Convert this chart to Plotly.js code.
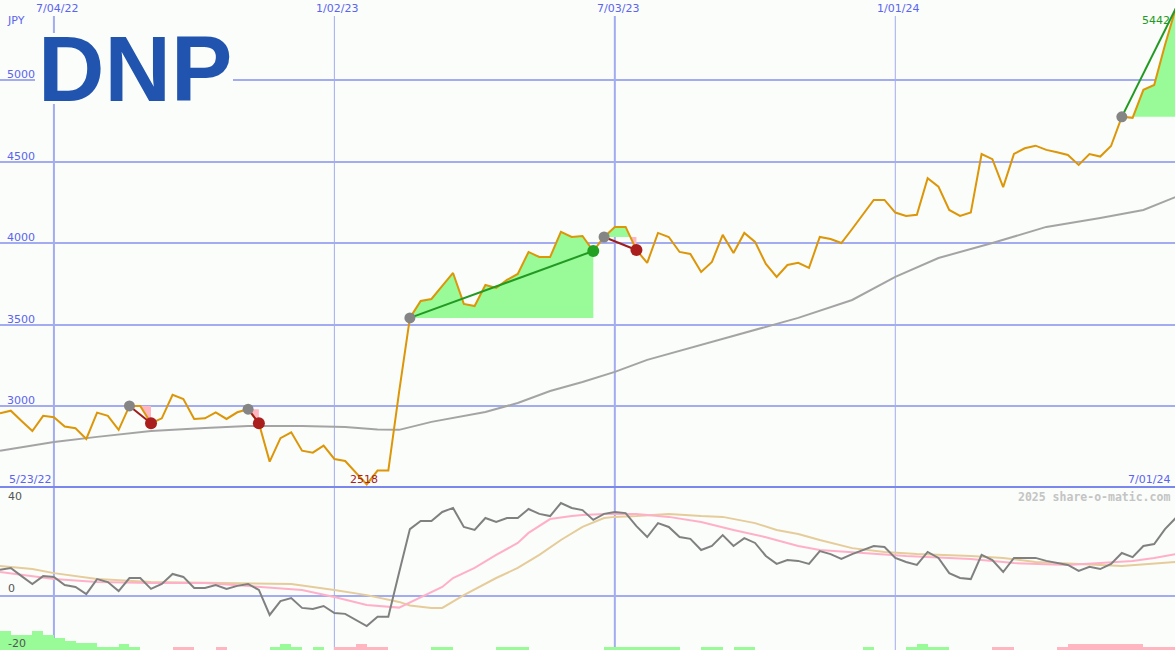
<!DOCTYPE html>
<html><head><meta charset="utf-8">
<script src="https://cdn.plot.ly/plotly-3.0.1.min.js"></script>
<style>html,body{margin:0;padding:0;background:#fafdfa}#chart{width:1175px;height:650px}</style>
</head><body><div id="chart"></div>
<script>
// ---------- data ----------
const START_DATE = '2022-05-30';           // first weekly close (week index 0)
const RANGE_END_WEEK = 108.93;             // right edge of chart, in weeks
const ticker = 'DNP';
const currency = 'JPY';
const startLabel = '5/23/22';
const endLabel = '7/01/24';
const credit = '2025 share-o-matic.com';

// weekly closing prices (JPY)
const prices = [
  2955,2971,2908,2846,2939,2931,2873,2863,2797,2959,
  2939,2853,3000,3000,2894,2924,3068,3043,2920,2924,
  2961,2920,2961,2980,2894,2658,2802,2838,2725,2713,
  2756,2674,2662,2591,2518,2603,2603,3086,3541,3645,
  3657,3737,3817,3627,3614,3743,3725,3774,3811,3946,
  3915,3915,4069,4038,4044,3952,4038,4100,4100,3958,
  3879,4063,4038,3946,3934,3823,3885,4051,3940,4063,
  4008,3872,3793,3866,3879,3848,4038,4026,4001,4087,
  4180,4266,4266,4188,4167,4174,4399,4347,4204,4167,
  4188,4548,4516,4344,4548,4583,4599,4573,4559,4542,
  4481,4548,4532,4597,4776,4770,4942,4972,5218,5442
];

// long moving average (grey line, top panel)
const maWeeks  = [0,5,9,14,19,23,28,32,35,37,40,45,48,51,54,57,60,65,70,74,79,83,87,92,97,102,106,109];
const maValues = [2724,2779,2810,2846,2865,2877,2877,2871,2856,2853,2902,2963,3018,3092,3147,3209,3283,3375,3467,3541,3651,3793,3909,4001,4100,4155,4204,4284];

// oscillator (dark grey line, lower panel), one value per week
const oscValues = [
  9.5,10.2,7.2,4.3,7.2,6.9,3.9,3.2,0.6,6.1,
  5.0,1.7,6.5,6.5,2.5,4.3,8.0,6.9,2.8,2.8,
  3.9,2.5,3.6,4.3,2.1,-7.1,-2.0,-0.9,-4.5,-4.9,
  -3.8,-6.4,-6.7,-9.0,-11.2,-7.8,-7.8,8.5,24.5,27.5,
  27.5,30.8,32.3,25.3,24.2,28.6,27.1,28.6,28.6,31.9,
  30.1,29.3,34.1,32.3,31.5,27.9,30.1,30.8,30.4,25.6,
  21.6,26.7,25.3,21.6,20.9,16.8,18.3,22.3,18.3,21.2,
  19.4,14.6,11.7,13.1,12.8,11.7,16.4,15.3,13.5,15.3,
  16.8,18.3,17.9,13.9,12.4,11.3,16.1,13.9,8.3,6.5,
  6.1,15.0,13.1,8.7,13.9,13.9,13.9,12.8,12.0,11.3,
  9.1,10.6,9.8,11.7,15.7,14.2,18.3,19.0,24.5,28.6
];

// fast signal line (pink)
const pinkWeeks  = [0,5,9,14,19,23,28,31,34,37,41,42,44,46,48,49,51,53,54,56,59,62,65,68,71,74,76,80,84,90,94,99,102,105,107,109];
const pinkValues = [8.7,6.1,5.0,4.7,4.7,3.6,2.1,-0.5,-3.4,-4.4,3.2,6.5,10.2,15.0,19.4,23.1,28.2,29.3,29.7,30.1,30.1,29.0,27.1,24.2,21.5,18.3,16.8,15.7,14.6,13.5,12.0,11.3,12.0,12.8,13.9,15.3];

// slow signal line (tan)
const tanWeeks  = [0,3,5,9,14,19,23,27,31,34,37,38,40,41,43,46,48,50,52,54,56,57,59,62,65,67,70,72,74,76,79,82,85,90,93,96,100,104,109];
const tanValues = [10.9,9.8,8.3,6.1,5.0,4.7,4.7,4.3,2.1,0.2,-2.3,-3.6,-4.5,-4.5,0.2,6.5,10.2,15.0,20.5,25.3,28.6,29.0,29.3,30.1,29.3,29.0,26.7,24.2,22.7,20.5,17.5,16.1,15.3,14.6,13.9,12.4,11.7,10.9,12.4];

// histogram at the foot of the lower panel (positive = green, negative = pink)
const barWeeks  = [0,1,2,3,4,5,6,7,8,9,10,11,12,16,17,20,25,26,27,29,31,32,33,34,35,40,41,46,47,48,56,57,58,59,60,61,62,65,66,68,69,80,84,85,86,87,92,93,98,99,100,101,102,103,104,105,106,107,108];
const barValues = [7.0,5.5,5.5,7.0,5.5,4.4,3.3,2.6,2.6,1.2,1.2,2.2,1.2,-1.2,-1.2,-1.2,1.2,2.2,1.2,1.2,-1.2,-1.2,-2.2,-1.2,-1.2,1.2,1.2,1.2,1.2,1.2,1.2,1.2,1.2,1.2,1.2,1.2,1.2,1.2,1.2,1.2,1.2,1.2,1.2,2.2,1.2,1.2,-1.2,-1.2,-1.2,-2.2,-2.2,-2.2,-2.2,-2.2,-2.2,-2.2,-1.2,-1.2,-1.2];

// trades (week indices); last one still open
const tradeEntry = [12,23,38,56,104];
const tradeExit  = [14,24,55,59,109];
const tradeOpen  = [false,false,false,false,true];

// axis ticks
const gridDates  = ['2022-07-04','2023-01-02','2023-07-03','2024-01-01'];
const gridLabels = ['7/04/22','1/02/23','7/03/23','1/01/24'];
const gridMajor  = [true,false,true,false];
const priceTicks = [5000,4500,4000,3500,3000];
const priceRange = [2502,5494];
const oscTicks   = [40,0,-20];
const oscRange   = [-20,40];

// ---------- helpers ----------
const W = 1175, H = 650;
const SPLIT = 163 / H;                      // lower panel height share
const t0 = Date.parse(START_DATE + 'T00:00:00Z');
function wDate(w){ return new Date(t0 + w*7*864e5).toISOString().slice(0,19).replace('T',' '); }
const weeks = prices.map((_,i)=>i);
const dates = weeks.map(wDate);
const px = v => v / W, py = v => 1 - v / H;

const BG = '#fafdfa';
const BLUE_TXT = '#5a64f0';
const GRID = '#a3acf0';
const FONT = 'DejaVu Sans, Verdana, sans-serif';

const traces = [];

// trade fills (green where price above entry, pink where below)
tradeEntry.forEach((a,k)=>{
  const b = tradeExit[k], base = prices[a];
  const xs = [], ys = [];
  for (let i=a;i<b;i++){
    xs.push(i); ys.push(prices[i]);
    const d0 = prices[i]-base, d1 = prices[i+1]-base;
    if (d0*d1 < 0){ const t = d0/(d0-d1); xs.push(i+t); ys.push(base); }
  }
  xs.push(b); ys.push(prices[b]);
  const revX = xs.slice().reverse();
  [['#98fb98', v=>Math.max(v,base), v=>v>base], ['#ffb6c1', v=>Math.min(v,base), v=>v<base]].forEach(([col,f,test])=>{
    if (!ys.some(test)) return;
    traces.push({
      x: xs.concat(revX).map(wDate),
      y: ys.map(f).concat(revX.map(()=>base)),
      type:'scatter', mode:'lines', fill:'toself', fillcolor: col,
      line:{width:0, color:col}, hoverinfo:'skip', xaxis:'x', yaxis:'y'
    });
  });
});

// moving average
traces.push({x: maWeeks.map(wDate), y: maValues, type:'scatter', mode:'lines',
  line:{color:'#a4a4a4', width:2}, xaxis:'x', yaxis:'y'});
// price
traces.push({x: dates, y: prices, type:'scatter', mode:'lines',
  line:{color:'#dc9608', width:2}, xaxis:'x', yaxis:'y'});

// trade lines and markers
tradeEntry.forEach((a,k)=>{
  const b = tradeExit[k];
  const win = prices[b] > prices[a];
  traces.push({x:[wDate(a),wDate(b)], y:[prices[a],prices[b]], type:'scatter', mode:'lines',
    line:{color: win ? '#229922' : '#a01c1c', width:2}, xaxis:'x', yaxis:'y'});
});
traces.push({x: tradeEntry.map(wDate), y: tradeEntry.map(i=>prices[i]), type:'scatter', mode:'markers',
  marker:{color:'#858585', size:11}, xaxis:'x', yaxis:'y'});
const closed = tradeExit.filter((_,k)=>!tradeOpen[k]);
const closedEntry = tradeEntry.filter((_,k)=>!tradeOpen[k]);
traces.push({x: closed.map(wDate), y: closed.map(i=>prices[i]), type:'scatter', mode:'markers',
  marker:{color: closed.map((b,k)=> prices[b] > prices[closedEntry[k]] ? '#22a022' : '#aa1e1e'), size:12},
  xaxis:'x', yaxis:'y'});

// lower panel
traces.push({x: barWeeks.map(wDate), y: barValues.map(Math.abs), base: oscRange[0], type:'bar',
  width: 7*864e5, offset: 0,
  marker:{color: barValues.map(v=> v>0 ? '#98fb98' : '#ffb6c1'), line:{width:0}},
  xaxis:'x', yaxis:'y2'});
traces.push({x: tanWeeks.map(wDate), y: tanValues, type:'scatter', mode:'lines',
  line:{color:'#e6cc9a', width:2}, xaxis:'x', yaxis:'y2'});
traces.push({x: pinkWeeks.map(wDate), y: pinkValues, type:'scatter', mode:'lines',
  line:{color:'#ffb0c8', width:2}, xaxis:'x', yaxis:'y2'});
traces.push({x: dates, y: oscValues, type:'scatter', mode:'lines',
  line:{color:'#808080', width:2}, xaxis:'x', yaxis:'y2'});

// ---------- shapes ----------
const shapes = [];
gridDates.forEach((d,k)=>{
  shapes.push({type:'line', layer:'below', xref:'x', yref:'paper', x0:d, x1:d, y0:0, y1:py(16),
    line:{color: GRID, width: gridMajor[k] ? 2 : 1}});
});
shapes.push({type:'line', layer:'above', xref:'paper', yref:'paper', x0:0, x1:1, y0:SPLIT, y1:SPLIT,
  line:{color:'#7a88ee', width:2}});
// white box behind logo
shapes.push({type:'rect', layer:'above', xref:'paper', yref:'paper', x0:px(35), x1:px(233), y0:py(104), y1:py(33),
  fillcolor: BG, line:{width:0}});

// ---------- annotations ----------
const ann = [];
const small = (color)=>({family: FONT, size: 11, color});
gridDates.forEach((d,k)=>{
  ann.push({x:d, xref:'x', y:py(8.5), yref:'paper', text:gridLabels[k], showarrow:false,
    xanchor:'center', yanchor:'middle', xshift:3, font: small(BLUE_TXT)});
});
ann.push({x:px(5), xref:'paper', y:py(21), yref:'paper', text:currency, showarrow:false,
  xanchor:'left', yanchor:'middle', font: small(BLUE_TXT)});
priceTicks.forEach(v=>{
  ann.push({x:px(5), xref:'paper', y:v, yref:'y', text:String(v), showarrow:false,
    xanchor:'left', yanchor:'middle', yshift:5.5, font: small(BLUE_TXT)});
});
ann.push({x:px(7), xref:'paper', y:SPLIT, yref:'paper', text:startLabel, showarrow:false,
  xanchor:'left', yanchor:'middle', yshift:8, font: small(BLUE_TXT)});
ann.push({x:px(1172), xref:'paper', y:SPLIT, yref:'paper', text:endLabel, showarrow:false,
  xanchor:'right', yanchor:'middle', yshift:8, font: small(BLUE_TXT)});
oscTicks.forEach(v=>{
  ann.push({x:px(6), xref:'paper', y:v, yref:'y2', text:String(v), showarrow:false,
    xanchor:'left', yanchor:'middle', yshift: v === oscRange[1] ? -9 : 7, font: small('#555555')});
});
ann.push({x:px(1172), xref:'paper', y:py(496.5), yref:'paper', text:credit, showarrow:false,
  xanchor:'right', yanchor:'middle', font:{family:'DejaVu Sans Mono, monospace', size:11.5, color:'#c4c4c4', weight:'bold'}});
// min / last labels
const minIdx = prices.indexOf(Math.min(...prices));
ann.push({x:wDate(minIdx), xref:'x', y:prices[minIdx], yref:'y', text:String(prices[minIdx]), showarrow:false,
  xanchor:'center', yanchor:'middle', xshift:-3, yshift:5, font: small('#aa2020')});
const last = prices.length-1;
ann.push({x:px(1172), xref:'paper', y:prices[last], yref:'y', text:String(prices[last]), showarrow:false,
  xanchor:'right', yanchor:'middle', yshift:-12.5, font: small('#229922')});
// logo
ann.push({x:px(135), xref:'paper', y:py(68.5), yref:'paper', text:ticker, showarrow:false,
  xanchor:'center', yanchor:'middle', font:{family:'Liberation Sans, Arial, sans-serif', size:92, color:'#2154ae', weight:'bold'}});

const layout = {
  width: W, height: H,
  margin:{l:0,r:0,t:0,b:0,pad:0},
  paper_bgcolor: BG, plot_bgcolor:'rgba(0,0,0,0)',
  showlegend:false, hovermode:false, bargap:0,
  xaxis:{type:'date', range:[wDate(0), wDate(RANGE_END_WEEK)], showgrid:false, zeroline:false,
    showticklabels:false, showline:false, ticks:'', fixedrange:true},
  yaxis:{domain:[SPLIT,1], range:priceRange, tickvals:priceTicks, showgrid:true, gridcolor:GRID, gridwidth:2,
    zeroline:false, showticklabels:false, showline:false, ticks:'', fixedrange:true},
  yaxis2:{domain:[0,SPLIT], range:oscRange, tickvals:[0], showgrid:true, gridcolor:GRID, gridwidth:2,
    zeroline:false, showticklabels:false, showline:false, ticks:'', fixedrange:true},
  shapes, annotations: ann
};
Plotly.newPlot('chart', traces, layout, {displayModeBar:false, staticPlot:true});
</script></body></html>
